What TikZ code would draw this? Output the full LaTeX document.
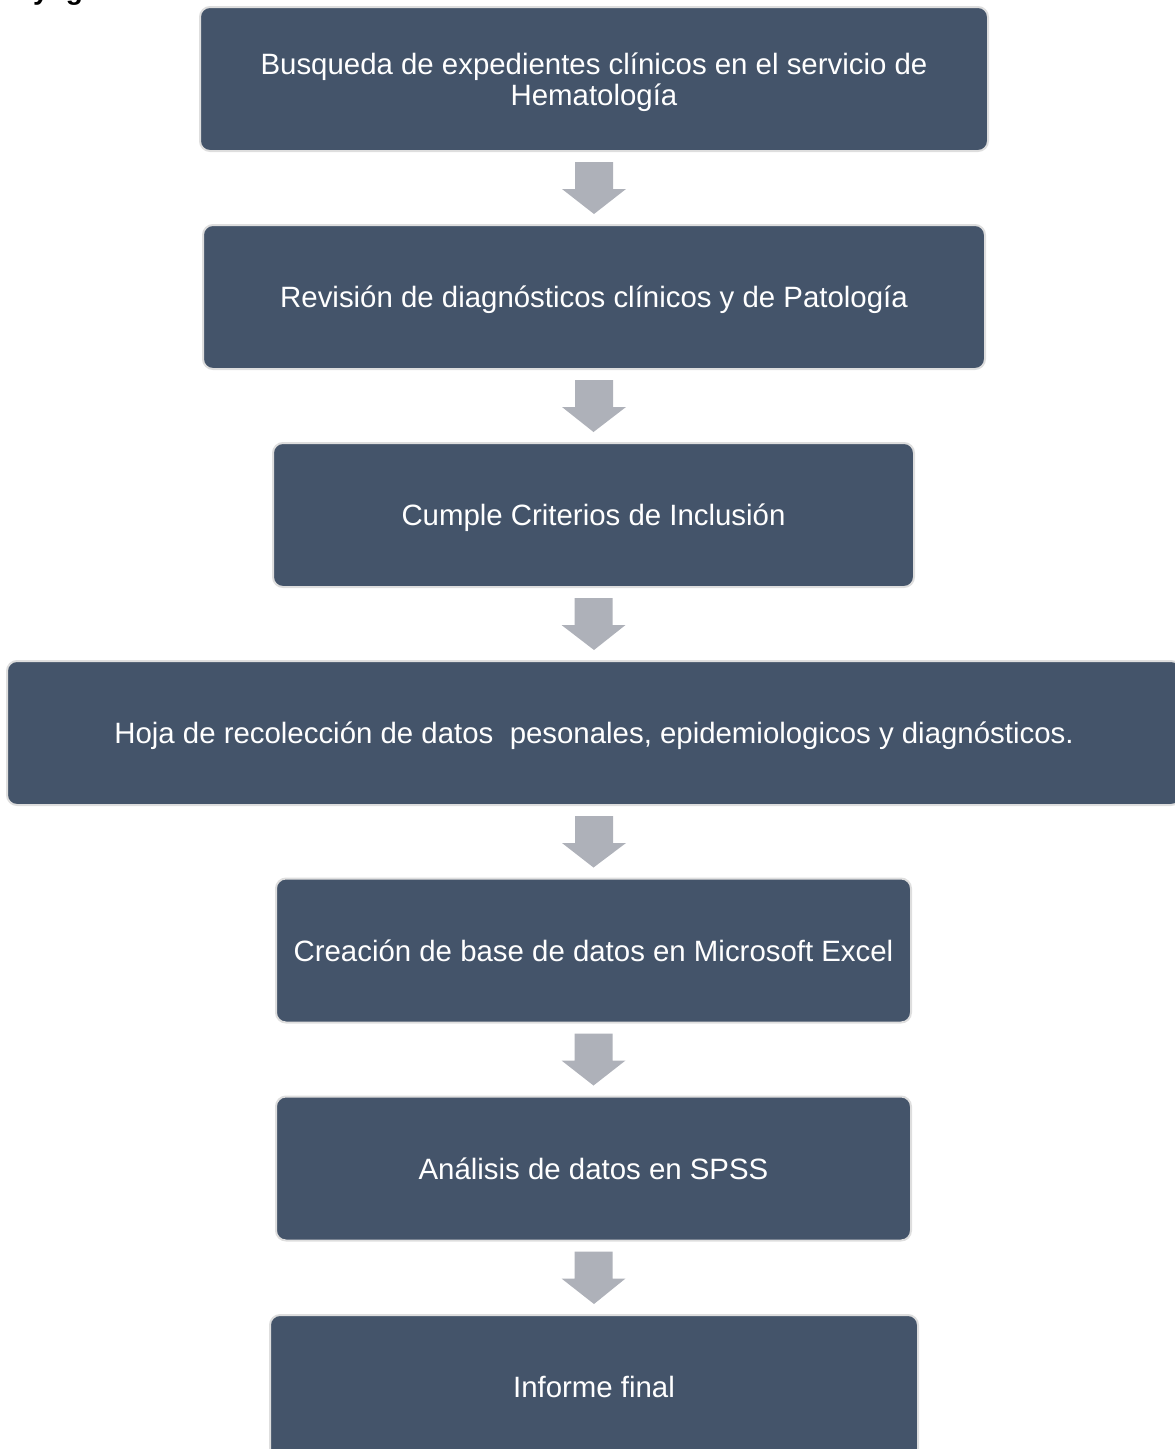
\documentclass[tikz,border=0pt]{standalone}
\usepackage{fontspec}
\setmainfont{Liberation Sans}
\usetikzlibrary{calc}
\definecolor{boxfill}{HTML}{44546A}
\definecolor{boxline}{HTML}{DEDEDE}
\definecolor{arrowfill}{HTML}{AEB1B9}
\begin{document}
\begin{tikzpicture}[x=1pt,y=-1pt,
  stepbox/.style={draw=boxline, line width=2pt, fill=boxfill, rounded corners=10pt,
    minimum height=144pt, text=white, align=center, inner sep=0pt, text depth=0pt,
    font=\fontsize{29.4}{31}\selectfont},
  flowarrow/.style={fill=arrowfill, draw=none}
]
\useasboundingbox (0,0) rectangle (1175,1449);
\node[anchor=base west, inner sep=0pt, font=\fontsize{28}{32}\selectfont\bfseries] (title) at (33,-1) {y\hspace{17pt}g};

\node[stepbox, minimum width=788pt] (b1) at (594,79) {Busqueda de expedientes clínicos en el servicio de\\Hematología};
\node[stepbox, minimum width=782pt] (b2) at (594,297) {Revisión de diagnósticos clínicos y de Patología};
\node[stepbox, minimum width=641pt] (b3) at (593.5,515) {Cumple Criterios de Inclusión};
\node[stepbox, minimum width=1174pt] (b4) at (594,733) {Hoja de recolección de datos \ pesonales, epidemiologicos y diagnósticos.};
\node[stepbox, minimum width=635pt] (b5) at (593.5,950.5) {Creación de base de datos en Microsoft Excel};
\node[stepbox, minimum width=635pt] (b6) at (593.5,1168.5) {Análisis de datos en SPSS};
\node[stepbox, minimum width=648pt] (b7) at (594,1387) {Informe final};

\foreach \a/\b in {b1/b2,b2/b3,b3/b4,b4/b5,b5/b6,b6/b7}{
  \fill[flowarrow]
    ($(\a.south)+(-19,10)$) -- ($(\a.south)+(19,10)$) -- ($(\a.south)+(19,37)$) --
    ($(\a.south)+(32,37)$) -- ($(\b.north)+(0,-10)$) -- ($(\a.south)+(-32,37)$) --
    ($(\a.south)+(-19,37)$) -- cycle;
}
\end{tikzpicture}
\end{document}
